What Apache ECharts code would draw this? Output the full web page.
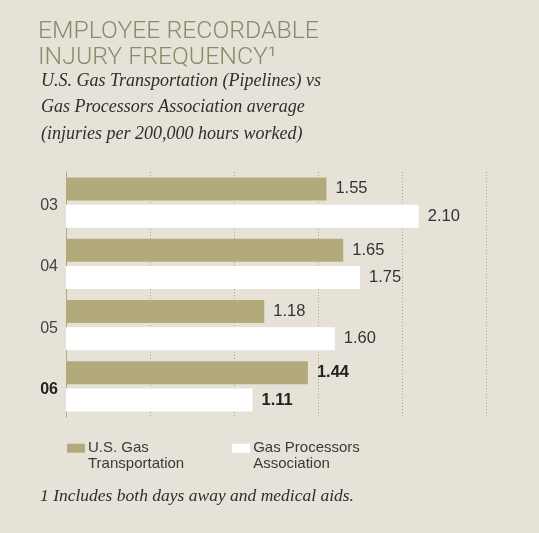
<!DOCTYPE html>
<html>
<head>
<meta charset="utf-8">
<script src="https://cdn.jsdelivr.net/npm/echarts@6/dist/echarts.min.js"></script>
<style>
html,body{margin:0;padding:0;background:#e6e2d8;}
#chart{width:539px;height:533px;}
</style>
</head>
<body>
<div id="chart"></div>
<script>
var categories = ['03', '04', '05', '06'];
var usGas = [1.55, 1.65, 1.18, 1.44];
var gpa = [2.10, 1.75, 1.60, 1.11];
var seriesNames = ['U.S. Gas\nTransportation', 'Gas Processors\nAssociation'];
var xTicks = [0, 0.5, 1.0, 1.5, 2.0, 2.5];

var TAN = '#b3aa7c';
var SANS = '"Liberation Sans", Arial, sans-serif';
var SERIF = '"Liberation Serif", "DejaVu Serif", serif';
var lastIdx = categories.length - 1;

function mkData(arr) {
  return arr.map(function (v, i) {
    var d = { value: v };
    if (i === lastIdx) d.label = { fontWeight: 'bold', color: '#222' };
    return d;
  });
}

var chart = echarts.init(document.getElementById('chart'), null, { renderer: 'canvas' });
chart.setOption({
  backgroundColor: '#e6e2d8',
  animation: false,
  title: [
    {
      text: 'EMPLOYEE RECORDABLE\nINJURY FREQUENCY¹',
      left: 33, top: 14,
      textStyle: { fontFamily: 'Roboto, sans-serif', fontWeight: 300, fontSize: 24.8, lineHeight: 26, color: '#8c8a6a' }
    },
    {
      text: 'U.S. Gas Transportation (Pipelines) vs\nGas Processors Association average\n(injuries per 200,000 hours worked)',
      left: 36, top: 63,
      textStyle: { fontFamily: SERIF, fontStyle: 'italic', fontWeight: 'normal', fontSize: 18, lineHeight: 26.5, color: '#2e2e2e' }
    },
    {
      text: '1 Includes both days away and medical aids.',
      left: 35, top: 482,
      textStyle: { fontFamily: SERIF, fontStyle: 'italic', fontWeight: 'normal', fontSize: 17.5, color: '#2e2e2e' }
    }
  ],
  legend: {
    data: seriesNames,
    left: 62, top: 420,
    itemWidth: 18, itemHeight: 9, itemGap: 48,
    icon: 'rect',
    formatter: function (name) { return '\n' + name; },
    textStyle: { fontFamily: SANS, fontSize: 15, lineHeight: 15.5, color: '#3a3a3a', padding: [0, 0, 0, -2] }
  },
  grid: { left: 66, right: 53, top: 172, height: 245, containLabel: false },
  xAxis: {
    type: 'value', min: xTicks[0], max: xTicks[xTicks.length - 1], interval: 0.5,
    axisLine: { show: false }, axisTick: { show: false }, axisLabel: { show: false },
    splitLine: { show: true, lineStyle: { color: '#b0a97e', type: [1, 2], width: 1 } }
  },
  yAxis: {
    type: 'category', inverse: true, data: categories,
    axisLine: { show: true, lineStyle: { color: TAN, width: 1 } },
    axisTick: { show: false },
    axisLabel: {
      margin: 8, fontFamily: SANS, fontSize: 16, color: '#444', padding: [6, 0, 0, 0],
      formatter: function (v, i) { return i === lastIdx ? '{b|' + v + '}' : v; },
      rich: { b: { fontFamily: SANS, fontSize: 16, fontWeight: 'bold', color: '#222' } }
    }
  },
  series: [
    {
      name: seriesNames[0], type: 'bar', data: mkData(usGas),
      barWidth: 23, barGap: '19%',
      itemStyle: { color: TAN },
      label: { show: true, position: 'right', distance: 9, fontFamily: SANS, fontSize: 16.5, color: '#333',
        formatter: function (p) { return p.value.toFixed(2); } }
    },
    {
      name: seriesNames[1], type: 'bar', data: mkData(gpa),
      barWidth: 23, barGap: '19%',
      itemStyle: { color: '#ffffff' },
      label: { show: true, position: 'right', distance: 9, fontFamily: SANS, fontSize: 16.5, color: '#333',
        formatter: function (p) { return p.value.toFixed(2); } }
    }
  ]
});
</script>
</body>
</html>
